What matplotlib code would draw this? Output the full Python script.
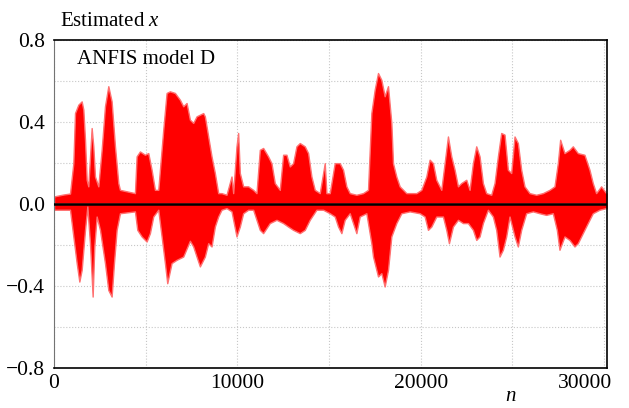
import numpy as np
import matplotlib.pyplot as plt
from matplotlib.ticker import MultipleLocator, FixedLocator, FuncFormatter

plt.rcParams['font.family'] = ['Liberation Serif', 'DejaVu Serif']
plt.rcParams['mathtext.fontset'] = 'custom'
plt.rcParams['mathtext.it'] = 'Liberation Serif:italic'
plt.rcParams['mathtext.rm'] = 'Liberation Serif'

# upper envelope of the estimated signal (sample index, value)
n_up = [0, 500, 871, 1053, 1144, 1325, 1507, 1598, 1689, 1779, 1870, 2052, 2142, 2233,
        2415, 2597, 2778, 2960, 3141, 3323, 3505, 3595, 4412, 4503, 4684, 4957, 5139,
        5320, 5502, 5684, 5956, 6138, 6319, 6592, 6864, 7046, 7228, 7408, 7590, 7771,
        7953, 8135, 8225, 8407, 8589, 8770, 8952, 9133, 9406, 9678, 9769, 9950, 10041,
        10132, 10313, 10586, 10858, 11040, 11221, 11403, 11675, 11857, 12039, 12311,
        12493, 12674, 12856, 13037, 13219, 13401, 13673, 13855, 14036, 14218, 14490,
        14763, 14853, 15035, 15306, 15579, 15760, 15942, 16124, 16487, 16850, 17122,
        17304, 17486, 17667, 17849, 18030, 18212, 18394, 18484, 18666, 18848, 19211,
        19756, 20028, 20300, 20482, 20664, 20845, 21118, 21299, 21481, 21663, 21844,
        22026, 22207, 22480, 22660, 22842, 23023, 23205, 23386, 23568, 23840, 24022,
        24204, 24385, 24567, 24748, 24930, 25112, 25293, 25475, 25656, 25929, 26292,
        26655, 27018, 27291, 27472, 27600, 27836, 28108, 28290, 28562, 28925, 29198,
        29379, 29561, 29833, 30106, 30150]
x_up = [0.036, 0.045, 0.05, 0.198, 0.442, 0.483, 0.499, 0.459, 0.312, 0.117, 0.085, 0.369,
        0.28, 0.133, 0.085, 0.263, 0.475, 0.573, 0.499, 0.28, 0.101, 0.068, 0.052, 0.231,
        0.255, 0.239, 0.247, 0.166, 0.068, 0.068, 0.361, 0.54, 0.548, 0.54, 0.507, 0.475,
        0.491, 0.41, 0.394, 0.426, 0.434, 0.442, 0.426, 0.328, 0.231, 0.15, 0.052, 0.052,
        0.044, 0.133, 0.052, 0.28, 0.345, 0.15, 0.085, 0.085, 0.068, 0.052, 0.263, 0.272,
        0.231, 0.198, 0.101, 0.068, 0.239, 0.239, 0.182, 0.198, 0.28, 0.296, 0.28, 0.247,
        0.133, 0.068, 0.052, 0.198, 0.052, 0.052, 0.198, 0.198, 0.166, 0.085, 0.052,
        0.044, 0.052, 0.068, 0.442, 0.556, 0.637, 0.604, 0.524, 0.573, 0.394, 0.198,
        0.133, 0.085, 0.052, 0.052, 0.068, 0.133, 0.215, 0.198, 0.117, 0.068, 0.198,
        0.328, 0.231, 0.166, 0.085, 0.101, 0.117, 0.068, 0.198, 0.28, 0.231, 0.101,
        0.052, 0.044, 0.101, 0.231, 0.345, 0.337, 0.166, 0.15, 0.328, 0.296, 0.166,
        0.085, 0.052, 0.044, 0.052, 0.068, 0.085, 0.198, 0.312, 0.247, 0.263, 0.28,
        0.247, 0.239, 0.166, 0.101, 0.052, 0.085, 0.052, 0.05]

# lower envelope
n_lo = [0, 871, 1053, 1235, 1380, 1507, 1689, 1816, 1961, 2106, 2197, 2324, 2506, 2778,
        2960, 3141, 3268, 3414, 3595, 4412, 4540, 4775, 5048, 5229, 5411, 5684, 5866,
        6047, 6174, 6410, 6682, 7046, 7408, 7590, 7771, 7953, 8044, 8225, 8407, 8589,
        8770, 8952, 9133, 9406, 9678, 9950, 10132, 10313, 10586, 10858, 11221, 11403,
        11766, 12130, 12493, 12765, 13037, 13401, 13673, 13945, 14308, 14672, 15035,
        15306, 15488, 15670, 15851, 16124, 16487, 16668, 17031, 17304, 17395, 17667,
        17849, 18030, 18212, 18394, 18666, 18938, 19392, 19937, 20210, 20391, 20573,
        20845, 21208, 21390, 21535, 21753, 22026, 22298, 22570, 22843, 23025, 23205,
        23386, 23659, 23931, 24113, 24294, 24476, 24658, 24839, 25112, 25293, 25475,
        25747, 26110, 26474, 26837, 27200, 27418, 27563, 27836, 28108, 28380, 28562,
        28834, 29107, 29379, 29742, 30106, 30150]
x_lo = [-0.029, -0.029, -0.159, -0.289, -0.379, -0.322, -0.127, -0.013, -0.192, -0.452,
        -0.208, -0.062, -0.127, -0.289, -0.42, -0.452, -0.289, -0.127, -0.046, -0.037,
        -0.127, -0.159, -0.184, -0.143, -0.062, -0.029, -0.159, -0.289, -0.387, -0.289,
        -0.273, -0.257, -0.18, -0.208, -0.257, -0.305, -0.289, -0.257, -0.192, -0.208,
        -0.111, -0.062, -0.029, -0.021, -0.037, -0.159, -0.111, -0.046, -0.029, -0.029,
        -0.127, -0.143, -0.094, -0.078, -0.094, -0.111, -0.127, -0.143, -0.127, -0.078,
        -0.029, -0.029, -0.046, -0.062, -0.111, -0.143, -0.078, -0.046, -0.143, -0.062,
        -0.046, -0.192, -0.257, -0.354, -0.338, -0.403, -0.322, -0.159, -0.094, -0.046,
        -0.037, -0.046, -0.062, -0.127, -0.111, -0.062, -0.062, -0.127, -0.192, -0.111,
        -0.078, -0.094, -0.094, -0.127, -0.176, -0.159, -0.094, -0.029, -0.062, -0.127,
        -0.257, -0.224, -0.159, -0.062, -0.159, -0.208, -0.127, -0.046, -0.037, -0.046,
        -0.054, -0.046, -0.127, -0.224, -0.159, -0.176, -0.208, -0.192, -0.143, -0.094,
        -0.046, -0.029, -0.021, -0.02]

fig = plt.figure(figsize=(6.29, 4.08), dpi=100)
ax = fig.add_axes([0.0859, 0.098, 0.879, 0.805])

ax.fill_between(n_up, 0, x_up, color='red', lw=1.0, edgecolor='#ff7070')
ax.fill_between(n_lo, x_lo, 0, color='red', lw=1.0, edgecolor='#ff7070')
ax.axhline(0, color='black', lw=1.8, zorder=3)

ax.set_xlim(0, 30150)
ax.set_ylim(-0.8, 0.8)
ax.xaxis.set_major_locator(FixedLocator([0, 10000, 20000]))
ax.xaxis.set_minor_locator(MultipleLocator(5000))
ax.yaxis.set_major_locator(MultipleLocator(0.4))
ax.yaxis.set_minor_locator(MultipleLocator(0.2))
ax.yaxis.set_major_formatter(FuncFormatter(lambda v, p: f"{v:.1f}".replace('-', '\u2212')))
ax.grid(which='both', color='0.78', ls=':', lw=0.8)
ax.set_axisbelow(True)
ax.tick_params(which='both', length=0, labelsize=15.5)
ax.tick_params(axis='y', pad=6.5)
ax.tick_params(axis='x', pad=4.5)

for s in ['top', 'right', 'bottom']:
    ax.spines[s].set_linewidth(1.2)
ax.spines['left'].set_color('0.45')

# the last x label sits left of its tick in the original, so it is placed by hand
ax.annotate("30000", xy=(30000, 0), xycoords=ax.get_xaxis_transform(),
            xytext=(5.8, -4.5), textcoords='offset points',
            ha='right', va='top', fontsize=15.5)

ax.text(0.042, 0.94, "ANFIS model D", transform=ax.transAxes, fontsize=15, va='center')
fig.text(0.095, 0.948, "Estimated $x$", fontsize=15, va='center')
fig.text(0.803, 0.028, "n", fontstyle='italic', fontsize=15, va='center')

fig.savefig("out.png", dpi=100)
